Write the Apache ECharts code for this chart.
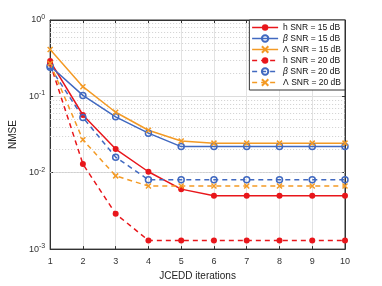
<!DOCTYPE html>
<html><head><meta charset="utf-8">
<script src="https://cdn.jsdelivr.net/npm/echarts@6/dist/echarts.min.js"></script>
<style>html,body{margin:0;padding:0;background:#fff}#c{width:382px;height:286px}</style>
</head><body><div id="c"></div>
<script>
const iterations = [1,2,3,4,5,6,7,8,9,10];
const h15 = [0.29,0.057,0.0204,0.0103,0.0061,0.0050,0.0050,0.0050,0.0050,0.0050];
const beta15 = [0.25,0.103,0.054,0.033,0.022,0.022,0.022,0.022,0.022,0.022];
const lam15 = [0.41,0.134,0.062,0.036,0.026,0.0244,0.0244,0.0244,0.0244,0.0244];
const h20 = [0.27,0.013,0.0029,0.0013,0.0013,0.0013,0.0013,0.0013,0.0013,0.0013];
const beta20 = [0.24,0.053,0.016,0.0081,0.0081,0.0081,0.0081,0.0081,0.0081,0.0081];
const lam20 = [0.27,0.027,0.0091,0.0067,0.0067,0.0067,0.0067,0.0067,0.0067,0.0067];
const names = ['h SNR = 15 dB','β SNR = 15 dB','Λ SNR = 15 dB','h SNR = 20 dB','β SNR = 20 dB','Λ SNR = 20 dB'];
const minorVals = [];
[0.001,0.01,0.1].forEach(d=>{for(let k=2;k<=9;k++) minorVals.push(+(d*k).toPrecision(3));});

const RED='#e8161b', BLUE='#4169c0', ORANGE='#f39a25';
const cross='path://M0 0L10 10M10 0L0 10';
function mk(name, data, color, dashed, kind){
  let sym, style;
  if(kind==='h'){sym='circle'; style={color:color};}
  else if(kind==='b'){sym='circle'; style={color:'rgba(0,0,0,0)', borderColor:color, borderWidth:1.5};}
  else {sym=cross; style={color:color, borderColor:color, borderWidth:1.5};}
  return {name:name, type:'line', data:iterations.map((x,i)=>[x,data[i]]),
    symbol:sym, symbolSize: kind==='l'?5:6, showSymbol:true,
    itemStyle:style, lineStyle:{color:color, width:1.5, type: dashed?[5,4]:'solid'},
    color:color, z:3};
}
const legendColors=[RED,BLUE,ORANGE,RED,BLUE,ORANGE];
const legendData = names.map((n,i)=>({name:n, lineStyle:{color:legendColors[i], width:1.5, type: i>=3?[5,4]:'solid'}}));
const F='Liberation Sans';
const chart = echarts.init(document.getElementById('c'));
chart.setOption({
  animation:false,
  grid:{left:49,right:37,top:20,bottom:32,show:true,borderColor:'#333',borderWidth:1},
  legend:{data:legendData, right:37, top:20, z:20, orient:'vertical', backgroundColor:'#fff',
    borderColor:'#333', borderWidth:1, padding:[3,4,3,2], itemGap:2, itemWidth:26, itemHeight:8,
    formatter:function(n){ return n.charAt(0)==='β' ? '{i|β}'+n.slice(1) : n; },
    textStyle:{fontSize:8.5, color:'#111', fontFamily:F, rich:{i:{fontSize:8.5, fontStyle:'italic', fontFamily:F, color:'#111'}}}},
  xAxis:[{type:'value', min:1, max:10, interval:1, name:'JCEDD iterations', nameLocation:'middle', nameGap:19,
    nameTextStyle:{fontSize:10, color:'#222', fontFamily:F},
    axisLine:{show:true, lineStyle:{color:'#333'}}, axisTick:{inside:true, length:3, lineStyle:{color:'#333'}},
    axisLabel:{fontSize:9, color:'#333', margin:8, fontFamily:F},
    splitLine:{show:true, lineStyle:{color:'#e2e2e2', width:1}}},
    {type:'value', position:'top', min:1, max:10, interval:1,
    axisLine:{show:true, lineStyle:{color:'#333'}}, axisTick:{inside:true, length:3, lineStyle:{color:'#333'}},
    axisLabel:{show:false}, splitLine:{show:false}}],
  yAxis:[{type:'log', logBase:10, min:0.001, max:1, name:'NMSE', nameLocation:'middle', nameGap:23,
    nameTextStyle:{fontSize:10, color:'#222', fontFamily:F},
    axisLine:{show:true, lineStyle:{color:'#333'}}, axisTick:{inside:true, length:3, lineStyle:{color:'#333'}},
    axisLabel:{fontSize:9, color:'#333', margin:5, fontFamily:F,
      formatter:function(v){const e=Math.round(Math.log10(v)); return '10{s|'+e+'}';},
      rich:{s:{fontSize:7, verticalAlign:'top', padding:[0,0,6,0], color:'#333', fontFamily:F}}},
    splitLine:{show:true, lineStyle:{color:'#dcdcdc', width:1}}},
    {type:'log', logBase:10, min:0.001, max:1, position:'right',
    axisLine:{show:true, lineStyle:{color:'#333'}}, axisTick:{inside:true, length:3, lineStyle:{color:'#333'}},
    axisLabel:{show:false}, splitLine:{show:false}}],
  series:[
    {name:'minor', type:'line', data:[], silent:true, z:1,
     markLine:{silent:true, z:1, symbol:'none', label:{show:false}, animation:false,
       lineStyle:{color:'#cfcfcf', type:[1,2], width:1},
       data:minorVals.map(v=>({yAxis:v}))}},
    mk(names[0],h15,RED,false,'h'),
    mk(names[1],beta15,BLUE,false,'b'),
    mk(names[2],lam15,ORANGE,false,'l'),
    mk(names[3],h20,RED,true,'h'),
    mk(names[4],beta20,BLUE,true,'b'),
    mk(names[5],lam20,ORANGE,true,'l')
  ]
});
</script></body></html>
